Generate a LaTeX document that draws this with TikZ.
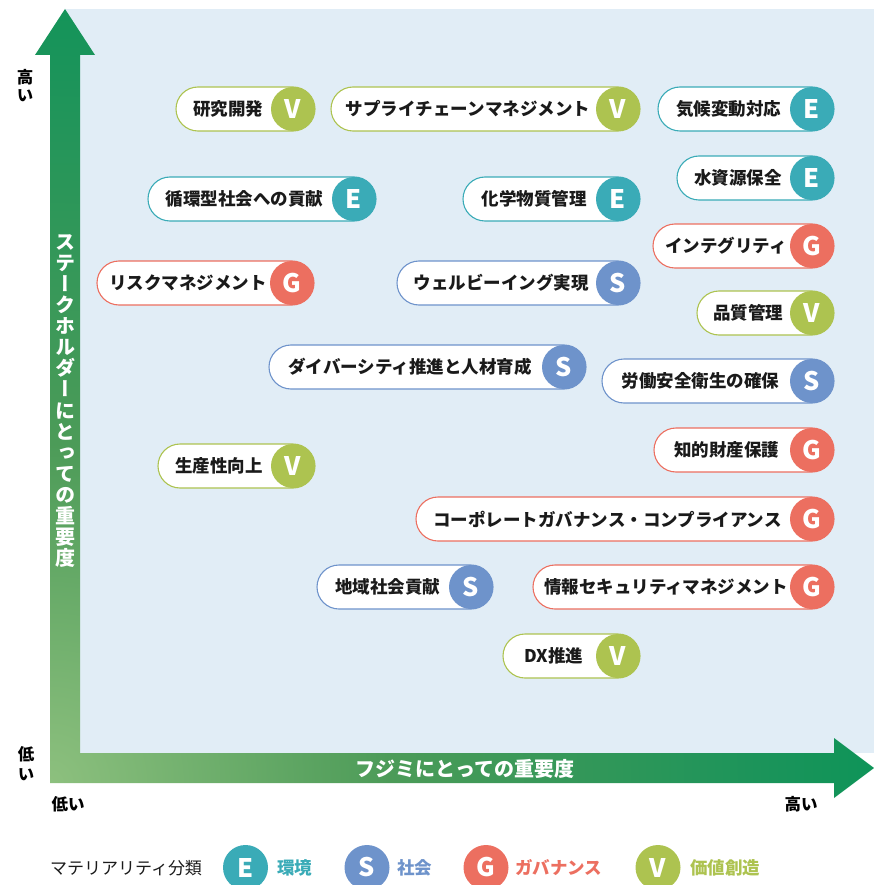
\documentclass[tikz,border=0pt]{standalone}
\usepackage{fontspec}
\setmainfont{Noto Sans CJK JP}
\newfontfamily\jpv[RawFeature=+vert]{Noto Sans CJK JP}
\definecolor{catE}{HTML}{3AABB7}
\definecolor{catS}{HTML}{6E93CB}
\definecolor{catG}{HTML}{EC6F60}
\definecolor{catV}{HTML}{ADC350}
\definecolor{bgblue}{HTML}{E1EDF6}
\definecolor{txt}{HTML}{1A1A1A}
\definecolor{gl}{HTML}{8DC07E}
\definecolor{gm}{HTML}{4C9B58}
\definecolor{gd2}{HTML}{1B945A}
\definecolor{gd}{HTML}{009357}
\pgfdeclareradialshading{axisshade}{\pgfpoint{0bp}{0bp}}{color(0bp)=(gl); color(10bp)=(gm); color(21bp)=(gd2); color(28bp)=(gd); color(50bp)=(gd)}
\tikzset{
  pillline/.style={line width=1.1pt, fill=white},
  pilltext/.style={font=\bfseries\fontsize{17.5}{20}\selectfont, text=txt, inner sep=0pt},
  badge/.style={circle, minimum size=44pt, inner sep=0pt, text=white, font=\bfseries\fontsize{25.5}{27}\selectfont},
  legbadge/.style={circle, minimum size=45pt, inner sep=0pt, text=white, font=\bfseries\fontsize{25.5}{27}\selectfont},
  legtext/.style={font=\bfseries\fontsize{17.5}{20}\selectfont, inner sep=0pt, anchor=west},
  axlabel/.style={font=\bfseries\fontsize{16.5}{19}\selectfont, text=black, inner sep=0pt, align=center},
}
\newcommand\mpill[7]{%
  \pgfmathsetmacro\pcl{#3-44}%
  \pgfmathsetmacro\ptx{(#2+\pcl+9)/2}%
  \pgfmathsetmacro\pcx{#3-22}%
  \draw[pillline, draw=#5, rounded corners=22pt] (#2,#4-22) rectangle (#3,#4+22);
  \node[badge, fill=#5] (#1c) at (\pcx,#4) {#6};
  \node[pilltext] (#1) at (\ptx,#4) {#7};
}
\begin{document}
\begin{tikzpicture}[x=1pt, y=-1pt]
\useasboundingbox (0,0) rectangle (874,885);
% background panel
\fill[bgblue] (65,9) rectangle (874,753);
% L-shaped axis arrows with gradient
\begin{scope}
  \clip (50,783) -- (50,55) -- (35,55) -- (65,9) -- (95,55) -- (80,55) -- (80,753)
        -- (834,753) -- (834,738) -- (874,768) -- (834,798) -- (834,783) -- cycle;
  \shade[shading=axisshade] (50,783) circle (850pt);
\end{scope}
% axis titles
\node[font=\jpv\bfseries\fontsize{20}{21.1}\selectfont, text=white, align=center, inner sep=0pt] (ytitle) at (65,401)
  {ス\\テ\\ー\\ク\\ホ\\ル\\ダ\\ー\\に\\と\\っ\\て\\の\\重\\要\\度};
\node[font=\bfseries\fontsize{20}{22}\selectfont, text=white, inner sep=0pt] (xtitle) at (465,769) {フジミにとっての重要度};
% axis end labels
\node[axlabel, font=\jpv\bfseries\fontsize{16.5}{18}\selectfont] (yhigh) at (25,86) {高\\い};
\node[axlabel, font=\jpv\bfseries\fontsize{16.5}{20}\selectfont] (ylow) at (26,764) {低\\い};
\node[axlabel] (xlow) at (68,804) {低い};
\node[axlabel] (xhigh) at (801,804) {高い};
% pills
\mpill{p1}{176}{315}{109}{catV}{V}{研究開発}
\mpill{p2}{331}{640}{109}{catV}{V}{サプライチェーンマネジメント}
\mpill{p3}{658}{834}{109}{catE}{E}{気候変動対応}
\mpill{p4}{677}{834}{178}{catE}{E}{水資源保全}
\mpill{p5}{148}{376}{199}{catE}{E}{循環型社会への貢献}
\mpill{p6}{463}{640}{199}{catE}{E}{化学物質管理}
\mpill{p7}{653}{834}{246}{catG}{G}{インテグリティ}
\mpill{p8}{97}{314}{283}{catG}{G}{リスクマネジメント}
\mpill{p9}{397}{640}{283}{catS}{S}{ウェルビーイング実現}
\mpill{p10}{697}{834}{313}{catV}{V}{品質管理}
\mpill{p11}{269}{586}{367}{catS}{S}{ダイバーシティ推進と人材育成}
\mpill{p12}{602}{834}{381}{catS}{S}{労働安全衛生の確保}
\mpill{p13}{654}{834}{450}{catG}{G}{知的財産保護}
\mpill{p14}{158}{315}{466}{catV}{V}{生産性向上}
\mpill{p15}{416}{834}{519}{catG}{G}{コーポレートガバナンス・コンプライアンス}
\mpill{p16}{317}{493}{587}{catS}{S}{地域社会貢献}
\mpill{p17}{533}{834}{587}{catG}{G}{情報セキュリティマネジメント}
\mpill{p18}{503}{640}{656}{catV}{V}{DX推進}
% legend
\begin{scope}
\clip (0,0) rectangle (874,885);
\node[font=\fontsize{17}{20}\selectfont, text=txt, inner sep=0pt] (legtitle) at (126,868) {マテリアリティ分類};
\node[legbadge, fill=catE] (lE) at (245.5,867.5) {E};
\node[legtext, text=catE] (lEt) at (277,868) {環境};
\node[legbadge, fill=catS] (lS) at (367,867.5) {S};
\node[legtext, text=catS] (lSt) at (397,868) {社会};
\node[legbadge, fill=catG] (lG) at (486,867.5) {G};
\node[legtext, text=catG] (lGt) at (515,868) {ガバナンス};
\node[legbadge, fill=catV] (lV) at (658,867.5) {V};
\node[legtext, text=catV] (lVt) at (690,868) {価値創造};
\end{scope}
\end{tikzpicture}
\end{document}
